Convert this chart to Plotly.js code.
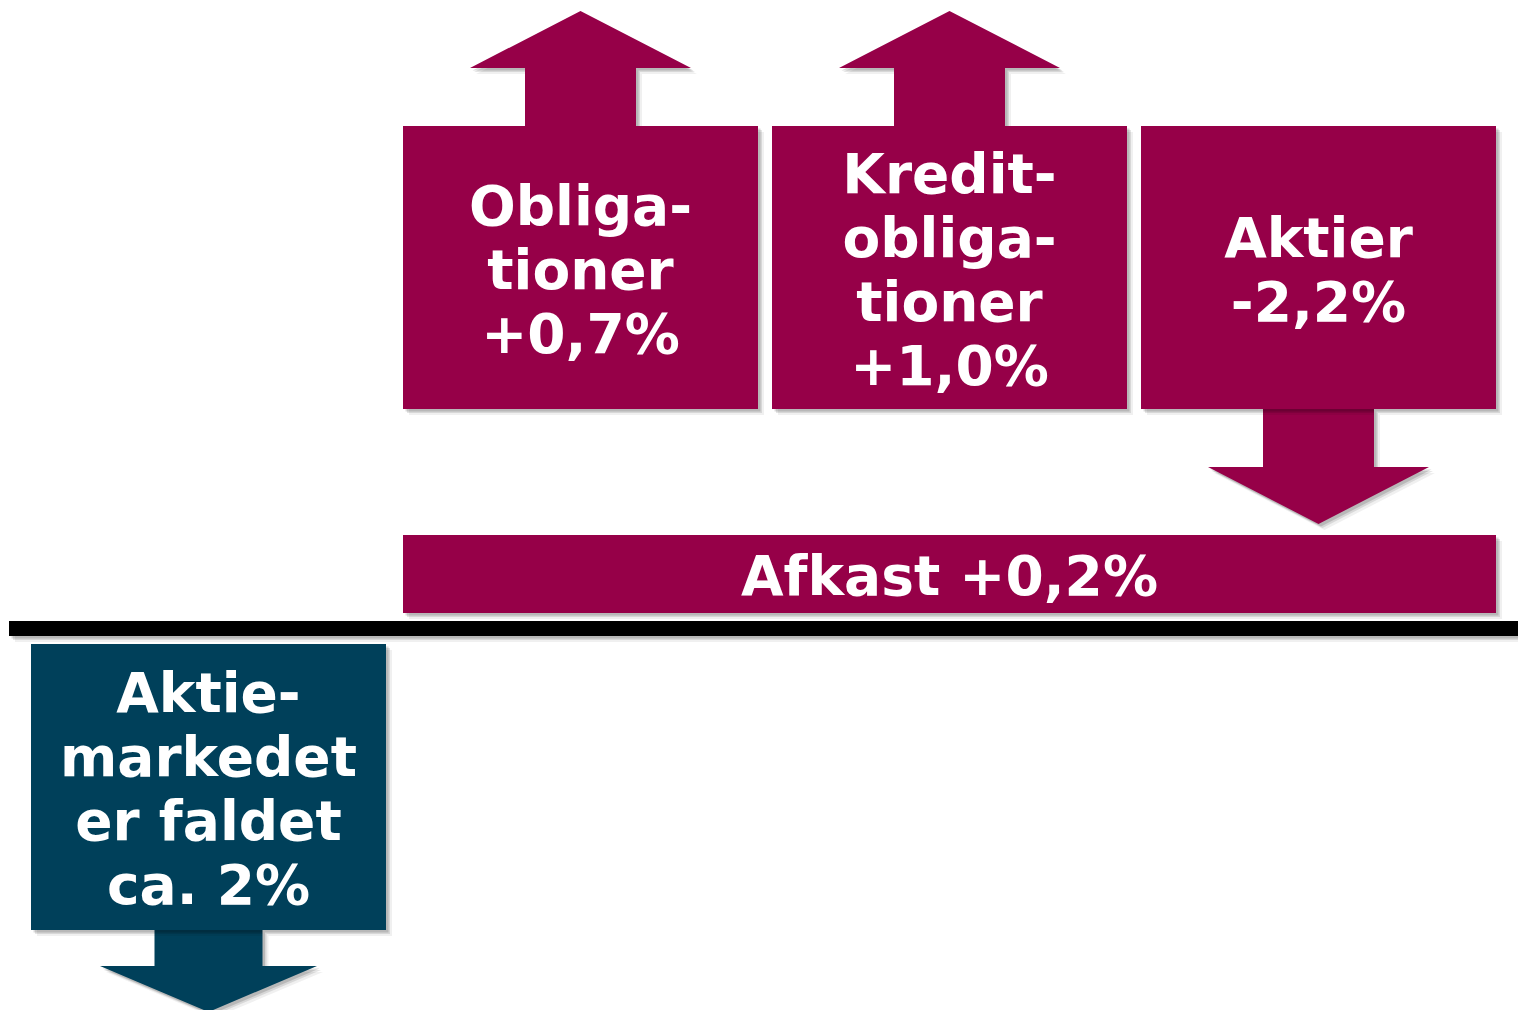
<!DOCTYPE html>
<html>
<head>
<meta charset="utf-8">
<script src="https://cdn.plot.ly/plotly-3.0.1.min.js"></script>
<style>html,body{margin:0;padding:0;background:#fff;}#chart{width:1518px;height:1010px;}</style>
</head>
<body>
<div id="chart"></div>
<script>
// ---- data ----
const categoryLines = [["Obliga-", "tioner"], ["Kredit-", "obliga-", "tioner"], ["Aktier"]];
const returnsPct = [0.7, 1.0, -2.2];
const totalLabel = "Afkast";
const totalReturnPct = 0.2;
const marketLines = ["Aktie-", "markedet", "er faldet"];
const marketPrefix = "ca.";
const marketChangePct = -2;

// ---- styling / layout constants ----
const W = 1518, H = 1010;
const MAROON = "#960048", TEAL = "#00405A";
const FONT = {family: "DejaVu Sans, Verdana, sans-serif", size: 55, color: "#ffffff", weight: "bold"};
const LINE_H = 64;
const TEXT_DY = 5;
const BOX_X0 = 403, BOX_W = 355, BOX_GAP = 14, BOX_TOP = 126, BOX_BOT = 409;
const TOTAL_TOP = 535, TOTAL_BOT = 613;
const AXIS_Y0 = 621, AXIS_Y1 = 636, AXIS_X0 = 9;
const MKT_X0 = 31, MKT_X1 = 386, MKT_TOP = 644, MKT_BOT = 930;

function fmtPct(v, signed) {
  const s = Math.abs(v).toFixed(1).replace(".", ",");
  return (signed ? (v >= 0 ? "+" : "-") : "") + s + "%";
}

const shapes = [];
const textX = [], textY = [], textS = [];

function addShadow(path) {
  [[6, 0.06], [4, 0.10], [2.5, 0.14]].forEach(([o, a]) => {
    shapes.push({type: "path", path: path(o), xref: "x", yref: "y", fillcolor: "rgba(0,0,0," + a + ")", line: {width: 0}, layer: "below"});
  });
}
function rectPath(x0, y0, x1, y1) {
  return o => `M${x0 + o},${y0 + o} L${x1 + o},${y0 + o} L${x1 + o},${y1 + o} L${x0 + o},${y1 + o} Z`;
}
function arrowPath(cx, baseY, dir, shaftW, headW, shaftLen, headLen) {
  return o => {
    const y1 = baseY + dir * shaftLen, y2 = y1 + dir * headLen;
    const pts = [[cx - shaftW / 2, baseY], [cx - shaftW / 2, y1], [cx - headW / 2, y1], [cx, y2],
                 [cx + headW / 2, y1], [cx + shaftW / 2, y1], [cx + shaftW / 2, baseY]];
    return "M" + pts.map(p => (p[0] + o) + "," + (p[1] + o)).join(" L") + " Z";
  };
}
function addFilled(pathFn, color) {
  addShadow(pathFn);
  shapes.push({type: "path", path: pathFn(0), xref: "x", yref: "y", fillcolor: color, line: {width: 0}, layer: "below"});
}
function addLines(lines, cx, cy) {
  const n = lines.length;
  lines.forEach((t, i) => {
    textX.push(cx);
    textY.push(cy + TEXT_DY + (i - (n - 1) / 2) * LINE_H);
    textS.push(t);
  });
}

// arrows first (so boxes overlap their bases)
returnsPct.forEach((v, i) => {
  const x0 = BOX_X0 + i * (BOX_W + BOX_GAP), cx = x0 + BOX_W / 2;
  const up = v >= 0;
  addFilled(arrowPath(cx, up ? BOX_TOP : BOX_BOT, up ? -1 : 1, 111, 221, 58, 57), MAROON);
});
returnsPct.forEach((v, i) => {
  const x0 = BOX_X0 + i * (BOX_W + BOX_GAP), cx = x0 + BOX_W / 2;
  addFilled(rectPath(x0, BOX_TOP, x0 + BOX_W, BOX_BOT), MAROON);
  addLines(categoryLines[i].concat([fmtPct(v, true)]), cx, (BOX_TOP + BOX_BOT) / 2 + 3);
});

// total bar
const totX1 = BOX_X0 + 3 * BOX_W + 2 * BOX_GAP;
addFilled(rectPath(BOX_X0, TOTAL_TOP, totX1, TOTAL_BOT), MAROON);
addLines([totalLabel + " " + fmtPct(totalReturnPct, true)], (BOX_X0 + totX1) / 2, (TOTAL_TOP + TOTAL_BOT) / 2 + 2);

// baseline
addFilled(rectPath(AXIS_X0, AXIS_Y0, W + 10, AXIS_Y1), "#000000");

// market box
const mcx = (MKT_X0 + MKT_X1) / 2;
addFilled(arrowPath(mcx, MKT_BOT, marketChangePct >= 0 ? -1 : 1, 108, 217, 36, 46), TEAL);
addFilled(rectPath(MKT_X0, MKT_TOP, MKT_X1, MKT_BOT), TEAL);
addLines(marketLines.concat([marketPrefix + " " + Math.abs(marketChangePct) + "%"]), mcx, (MKT_TOP + MKT_BOT) / 2 + 2);

const traces = [{
  type: "scatter", mode: "text", x: textX, y: textY, text: textS,
  textposition: "middle center", textfont: FONT, hoverinfo: "skip", showlegend: false, cliponaxis: false
}];

const layout = {
  width: W, height: H,
  margin: {l: 0, r: 0, t: 0, b: 0, pad: 0},
  paper_bgcolor: "#ffffff", plot_bgcolor: "#ffffff",
  xaxis: {range: [0, W], visible: false, fixedrange: true},
  yaxis: {range: [H, 0], visible: false, fixedrange: true},
  shapes: shapes,
  showlegend: false
};
Plotly.newPlot("chart", traces, layout, {staticPlot: true, displayModeBar: false});
</script>
</body>
</html>
